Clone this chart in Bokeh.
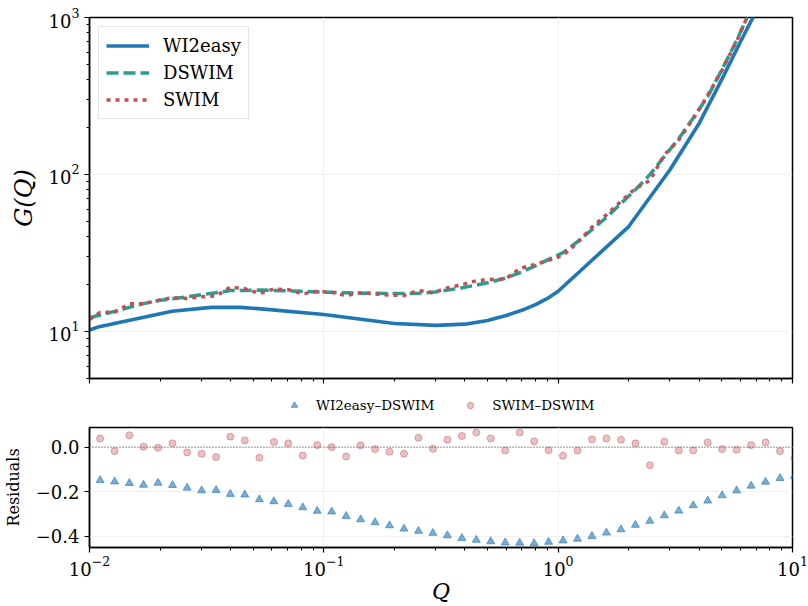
from bokeh.plotting import figure
from bokeh.models import (Legend, LegendItem, FixedTicker, CustomJSTickFormatter,
                          Span, Range1d)
from bokeh.layouts import column
from bokeh.embed import file_html
from bokeh.resources import INLINE

# ---------------- data ----------------
q_res = [0.0111, 0.0128, 0.0148, 0.0170, 0.0196, 0.0226, 0.0261, 0.0301, 0.0347,
         0.0399, 0.0460, 0.0531, 0.0612, 0.0705, 0.0813, 0.0937, 0.108, 0.1245,
         0.1435, 0.1654, 0.1907, 0.2198, 0.2534, 0.2921, 0.3367, 0.3881, 0.4473,
         0.5156, 0.5944, 0.6851, 0.7897, 0.9103, 1.049, 1.2095, 1.394, 1.607,
         1.853, 2.136, 2.462, 2.838, 3.271, 3.771, 4.346, 5.010, 5.775, 6.657,
         7.673, 8.845, 10.2]
q_curve = [0.01] + q_res

wi2_q = [0.01, 0.011, 0.0225, 0.033, 0.044, 0.054, 0.1, 0.2, 0.3, 0.4, 0.5, 0.6,
         0.7, 0.8, 0.9, 1.0, 2.0, 3.0, 4.0, 5.0, 6.0, 7.0]
wi2_g = [10.2, 10.7, 13.4, 14.2, 14.2, 13.9, 12.8, 11.2, 10.9, 11.1, 11.7, 12.6,
         13.6, 14.8, 16.2, 18.0, 46.5, 107, 212, 405, 700, 1100]

dswim = [12.2, 12.7, 13.4, 14.2, 15.0, 15.7, 16.1, 16.6, 17.1, 17.6, 18.2,
         18.2, 18.3, 18.2, 18.1, 18.0, 17.8, 17.7, 17.6, 17.5, 17.5,
         17.4, 17.4, 17.5, 17.7, 18.3, 18.9, 19.7, 20.6, 21.8, 23.6,
         25.9, 28.7, 31.7, 37.3, 44.5, 53.2, 65.2, 79.8, 99.6, 130,
         169, 229, 313, 468, 714, 1140, 1875, 3090, 5130]
swim = [11.9, 13.2, 13.2, 15.0, 15.0, 15.7, 16.4, 16.2, 16.6, 16.8, 19.1,
        18.7, 17.4, 18.6, 18.4, 17.3, 18.0, 17.7, 16.9, 17.6, 17.3,
        17.0, 16.9, 18.2, 17.6, 18.9, 19.8, 21.0, 21.4, 21.5, 25.1,
        26.6, 28.3, 30.5, 36.7, 46.1, 55.3, 67.4, 81.2, 91.5, 133,
        166, 226, 320, 464, 705, 1150, 1914, 3034, 4874]

res_wi2 = [-0.149, -0.155, -0.162, -0.170, -0.161, -0.171, -0.183, -0.195, -0.194,
           -0.211, -0.214, -0.235, -0.244, -0.256, -0.271, -0.287, -0.290, -0.310,
           -0.325, -0.338, -0.352, -0.367, -0.377, -0.386, -0.397, -0.409, -0.417,
           -0.424, -0.429, -0.430, -0.432, -0.426, -0.420, -0.412, -0.400, -0.385,
           -0.370, -0.350, -0.332, -0.307, -0.286, -0.262, -0.241, -0.217, -0.195,
           -0.174, -0.156, -0.140, -0.131]
res_swim = [0.039, -0.018, 0.053, 0.002, -0.003, 0.017, -0.024, -0.030, -0.045,
            0.047, 0.030, -0.048, 0.023, 0.017, -0.038, 0.009, 0.000, -0.042,
            0.008, -0.009, -0.021, -0.030, 0.042, -0.008, 0.033, 0.050, 0.065,
            0.039, -0.015, 0.065, 0.026, -0.014, -0.039, -0.015, 0.035, 0.039,
            0.033, 0.017, -0.081, 0.024, -0.015, -0.015, 0.021, -0.009, -0.012,
            0.009, 0.021, -0.018, -0.050]

series_names = ["WI2easy", "DSWIM", "SWIM"]
res_names = ["WI2easy\u2013DSWIM", "SWIM\u2013DSWIM"]

FONT = "DejaVu Serif"
BLUE = "#1f77b4"
TEAL = "#2a9d8f"
RED = "#c44e52"
W = 808
TRI = dict(marker="triangle", size=8, fill_color=BLUE, fill_alpha=0.6,
           line_color=BLUE, line_alpha=0.6)
CIR = dict(marker="circle", size=7, fill_color=RED, fill_alpha=0.35,
           line_color=RED, line_alpha=0.45)


def style(p):
    for ax in p.axis:
        ax.axis_line_width = 1.5
        ax.axis_line_color = "black"
        ax.major_tick_out = 5
        ax.major_tick_in = 0
        ax.minor_tick_out = 3
        ax.minor_tick_in = 0
        ax.major_tick_line_width = 1.2
        ax.minor_tick_line_width = 1
        ax.major_label_text_font = FONT
        ax.major_label_text_font_size = "18px"
        ax.major_label_text_color = "black"
        ax.axis_label_text_font = FONT
        ax.axis_label_text_color = "black"
    p.outline_line_color = "black"
    p.outline_line_width = 1.5
    p.outline_line_alpha = 1
    p.grid.grid_line_color = "#f0f0f0"
    p.grid.grid_line_width = 1
    p.background_fill_color = "white"
    p.border_fill_color = "white"


# ---------------- top panel ----------------
p1 = figure(width=W, height=384, x_axis_type="log", y_axis_type="log",
            x_range=Range1d(0.01, 10), y_range=Range1d(5, 1000),
            output_backend="svg", toolbar_location=None,
            min_border_left=89, min_border_right=16, min_border_top=17,
            min_border_bottom=6)
style(p1)
p1.xaxis.formatter = CustomJSTickFormatter(code="return ''")
p1.xaxis.major_label_standoff = 0
p1.xaxis.major_label_text_font_size = "1px"
p1.yaxis.axis_label = "G(Q)"
p1.yaxis.axis_label_text_font_style = "italic"
p1.yaxis.axis_label_text_font_size = "24px"
p1.yaxis.axis_label_standoff = 8

p1.line(wi2_q, wi2_g, color=BLUE, line_width=3.6, legend_label=series_names[0])
p1.line(q_curve, dswim, color=TEAL, line_width=3.5, line_dash="12 5",
        legend_label=series_names[1])
p1.line(q_curve, swim, color=RED, line_width=3.5, line_dash="4 5",
        legend_label=series_names[2])

lg = p1.legend[0]
lg.location = "top_left"
lg.margin = 9
lg.padding = 7
lg.spacing = 4
lg.glyph_width = 43
lg.glyph_height = 23
lg.label_standoff = 14
lg.label_text_font = FONT
lg.label_text_font_size = "18px"
lg.label_text_color = "black"
lg.border_line_color = "#cccccc"
lg.border_line_width = 1
lg.background_fill_alpha = 0.85

# ---------------- strip holding the residual legend ----------------
# (the same residual series, drawn outside this strip's visible y range,
#  so that only their legend entries show)
pl = figure(width=W, height=41, x_axis_type="log",
            x_range=Range1d(0.01, 10), y_range=Range1d(5, 6),
            output_backend="svg", toolbar_location=None,
            min_border_left=89, min_border_right=16, min_border_top=0,
            min_border_bottom=0)
pl.axis.visible = False
pl.grid.visible = False
pl.outline_line_color = None
pl.background_fill_color = "white"
pl.border_fill_color = "white"
k_tri = pl.scatter(q_res, res_wi2, **TRI)
k_cir = pl.scatter(q_res, res_swim, **CIR)
leg2 = Legend(items=[LegendItem(label=res_names[0], renderers=[k_tri]),
                     LegendItem(label=res_names[1], renderers=[k_cir])],
              orientation="horizontal", location=(195, 12),
              border_line_alpha=0, background_fill_alpha=0,
              label_text_font=FONT, label_text_font_size="13.5px",
              label_text_color="black",
              glyph_width=20, glyph_height=16, label_standoff=12,
              spacing=26, padding=0, margin=0)
pl.add_layout(leg2)

# ---------------- residual panel ----------------
p2 = figure(width=W, height=181, x_axis_type="log",
            x_range=Range1d(0.01, 10), y_range=Range1d(-0.451, 0.088),
            output_backend="svg", toolbar_location=None,
            min_border_left=89, min_border_right=16, min_border_top=2,
            min_border_bottom=59)
style(p2)
p2.yaxis.ticker = FixedTicker(ticks=[-0.4, -0.2, 0.0])
p2.yaxis.formatter = CustomJSTickFormatter(
    code="return tick == 0 ? '0.0' : '\u2212' + Math.abs(tick).toFixed(1)")
p2.yaxis.axis_label = "Residuals"
p2.yaxis.axis_label_text_font_size = "16px"
p2.yaxis.axis_label_text_font_style = "normal"
p2.yaxis.axis_label_standoff = 10
p2.xaxis.axis_label = "Q"
p2.xaxis.axis_label_text_font_style = "italic"
p2.xaxis.axis_label_text_font_size = "22px"
p2.xaxis.axis_label_standoff = 0
p2.xaxis.major_label_standoff = 3

p2.add_layout(Span(location=0, dimension="width", line_color="#666666",
                   line_dash="1 2", line_width=1.2))

p2.scatter(q_res, res_wi2, **TRI)
p2.scatter(q_res, res_swim, **CIR)

layout = column(p1, pl, p2, spacing=0)
open("out.html", "w").write(file_html(layout, INLINE))
